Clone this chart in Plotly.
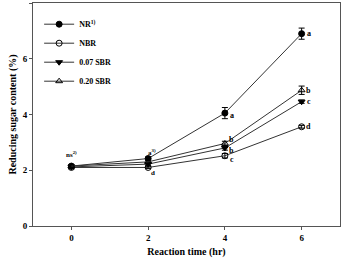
import plotly.graph_objects as go

time = [0, 2, 4, 6]
series_names = ["<b>NR<sup>1)</sup></b>", "<b>NBR</b>", "<b>0.07 SBR</b>", "<b>0.20 SBR</b>"]
nr = [2.15, 2.42, 4.05, 6.9]
nbr = [2.1, 2.1, 2.52, 3.56]
sbr07 = [2.12, 2.22, 2.8, 4.46]
sbr20 = [2.15, 2.3, 2.96, 4.87]
nr_err = [0.05, 0.05, 0.2, 0.2]
nbr_err = [0.05, 0.04, 0.08, 0.05]
sbr07_err = [0.05, 0.04, 0.08, 0.06]
sbr20_err = [0.05, 0.04, 0.08, 0.15]
letters_4 = ["a", "c", "b", "b"]
letters_6 = ["a", "d", "c", "b"]
letter_2_top = "<b>a<sup>3)</sup></b>"
letter_2_bot = "<b>d</b>"
letter_0 = "<b>ns<sup>2)</sup></b>"

font = "Liberation Serif"
line_col = "#333333"

symbols = ["circle", "circle-open", "triangle-down", "triangle-up-open"]
data = [nr, nbr, sbr07, sbr20]
errs = [nr_err, nbr_err, sbr07_err, sbr20_err]
shift4 = [-2, -4, -3, 4]

fig = go.Figure()
for name, ys, er, sym in zip(series_names, data, errs, symbols):
    fig.add_trace(go.Scatter(
        x=time, y=ys, name=name, mode="lines+markers",
        line=dict(color=line_col, width=1),
        marker=dict(symbol=sym, size=6, color="black", line=dict(color="black", width=1)),
        error_y=dict(type="data", array=er, color="black", thickness=1, width=3),
    ))

afont = dict(family=font, size=8, color="#000000")
ann = []
for ys, l4, l6, s4 in zip(data, letters_4, letters_6, shift4):
    ann.append(dict(x=4, y=ys[2], text="<b>" + l4 + "</b>", showarrow=False, xshift=7, yshift=s4, font=afont))
    ann.append(dict(x=6, y=ys[3], text="<b>" + l6 + "</b>", showarrow=False, xshift=7, font=afont))
ann.append(dict(x=2, y=nr[1], text=letter_2_top, showarrow=False, xshift=4, yshift=6,
                font=dict(family=font, size=7, color="#000000")))
ann.append(dict(x=2, y=nbr[1], text=letter_2_bot, showarrow=False, xshift=5, yshift=-6,
                font=dict(family=font, size=7, color="#000000")))
ann.append(dict(x=0, y=nr[0], text=letter_0, showarrow=False, yshift=12,
                font=dict(family=font, size=7, color="#000000")))

fig.update_layout(
    width=343, height=260,
    margin=dict(l=33, r=3, t=3, b=34),
    paper_bgcolor="white", plot_bgcolor="white",
    showlegend=True,
    legend=dict(x=0.02, y=0.97, xanchor="left", yanchor="top",
                font=dict(family=font, size=8, color="black"),
                bgcolor="rgba(0,0,0,0)", tracegroupgap=0, itemwidth=30,
                borderwidth=0),
    annotations=ann,
    xaxis=dict(range=[-1, 7], tickvals=time, ticktext=["<b>%d</b>" % t for t in time],
               showgrid=False, zeroline=False,
               showline=True, linecolor="#555555", linewidth=1, mirror=True,
               ticks="outside", ticklen=3, tickcolor="#555555",
               tickfont=dict(family=font, size=9, color="black"),
               title=dict(text="<b>Reaction time (hr)</b>", standoff=6,
                          font=dict(family=font, size=10, color="black"))),
    yaxis=dict(range=[0, 8], tickvals=[0, 2, 4, 6, 8],
               ticktext=["<b>%d</b>" % v for v in [0, 2, 4, 6, 8]],
               showgrid=False, zeroline=False,
               showline=True, linecolor="#555555", linewidth=1, mirror=True,
               ticks="outside", ticklen=3, tickcolor="#555555",
               tickfont=dict(family=font, size=9, color="black"),
               title=dict(text="<b>Reducing sugar content (%)</b>", standoff=4,
                          font=dict(family=font, size=10, color="black"))),
)
fig.write_html("out.html")
